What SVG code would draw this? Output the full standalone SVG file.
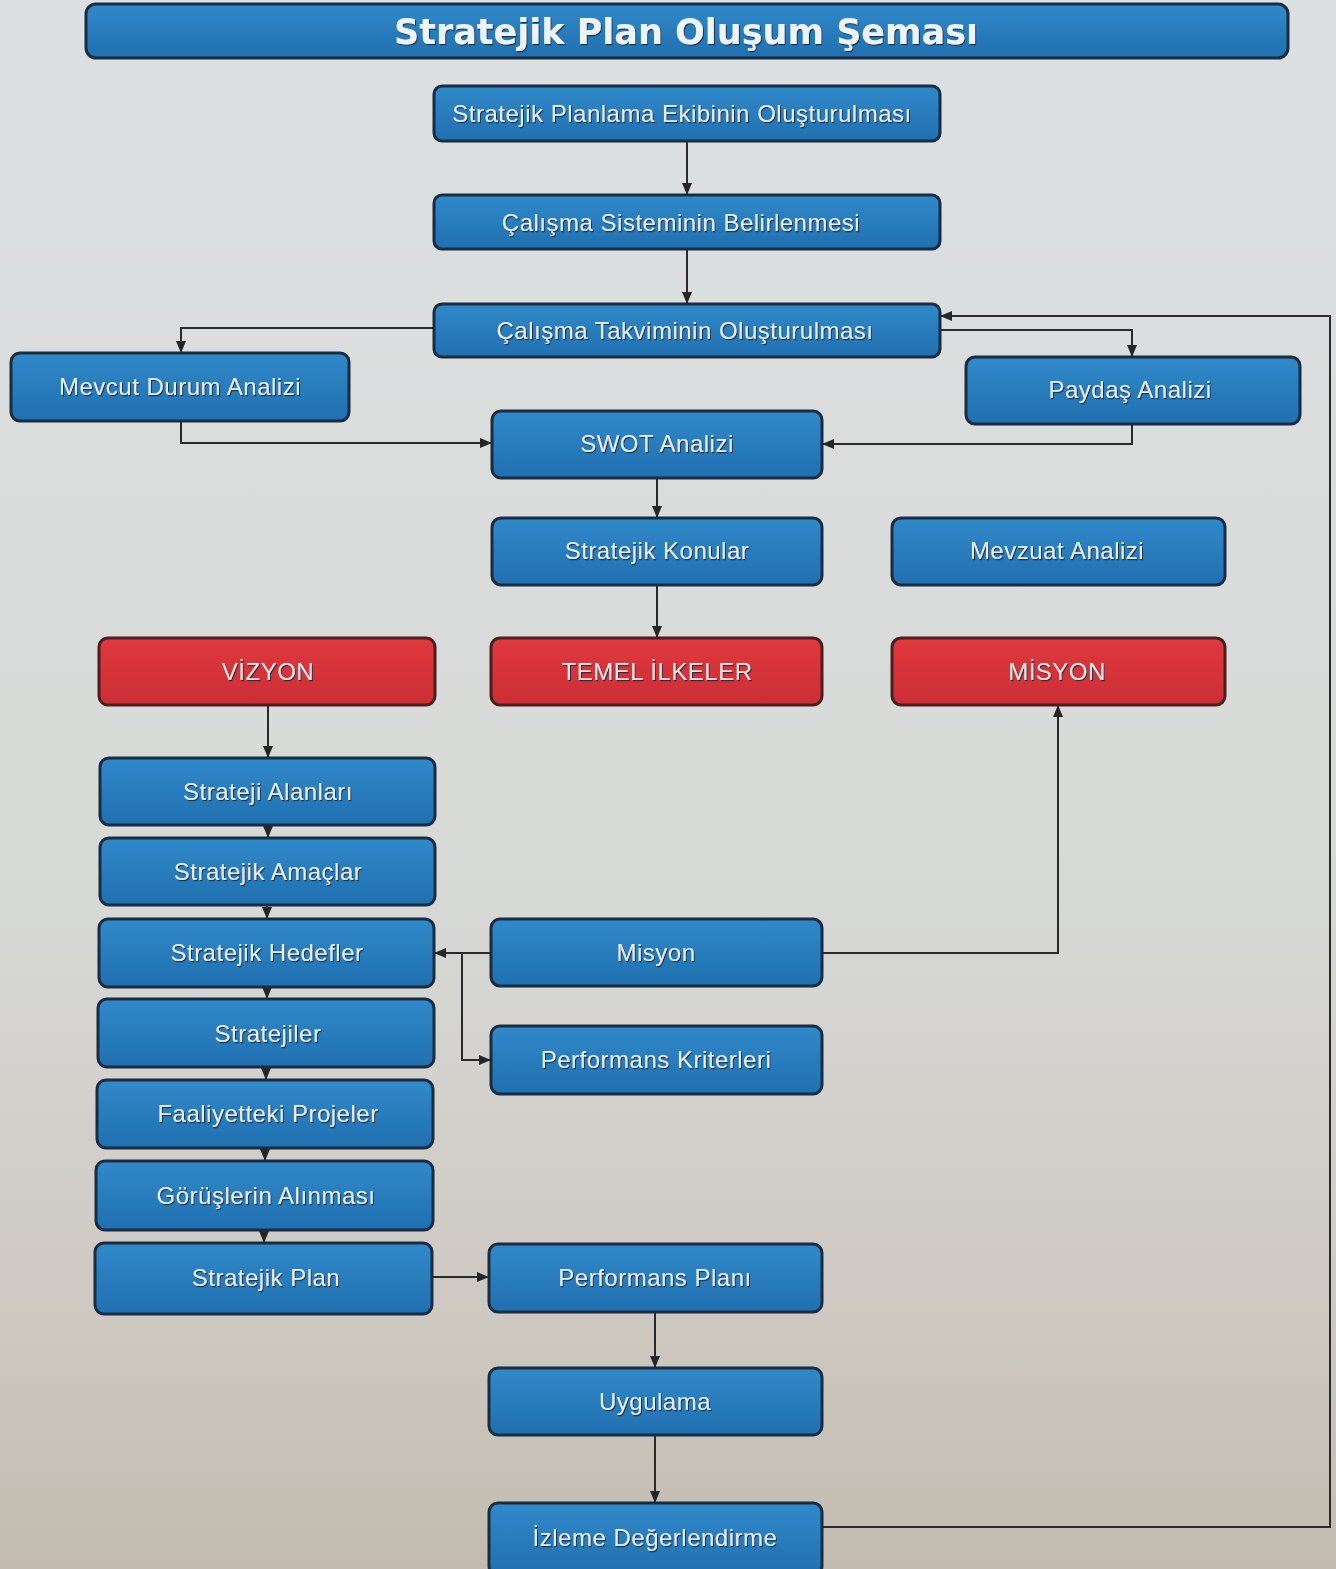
<svg xmlns="http://www.w3.org/2000/svg" width="1336" height="1569" viewBox="0 0 1336 1569">
  <defs>
    <linearGradient id="bg" x1="0" y1="0" x2="0" y2="1">
      <stop offset="0" stop-color="#dde0e1"/>
      <stop offset="0.55" stop-color="#d8dad8"/>
      <stop offset="0.85" stop-color="#cdc8c0"/>
      <stop offset="1" stop-color="#c3bbaf"/>
    </linearGradient>
    <linearGradient id="blue" x1="0" y1="0" x2="0" y2="1">
      <stop offset="0" stop-color="#3189c9"/>
      <stop offset="1" stop-color="#2070b0"/>
    </linearGradient>
    <linearGradient id="red" x1="0" y1="0" x2="0" y2="1">
      <stop offset="0" stop-color="#e0383e"/>
      <stop offset="1" stop-color="#cc2e35"/>
    </linearGradient>
    <filter id="ts" x="-10%" y="-30%" width="120%" height="160%">
      <feDropShadow dx="1" dy="1.2" stdDeviation="0.7" flood-color="#14283a" flood-opacity="0.9"/>
    </filter>
    <marker id="arr" viewBox="0 0 12 10" refX="12" refY="5" markerWidth="12" markerHeight="10" markerUnits="userSpaceOnUse" orient="auto">
      <path d="M0,0 L12,5 L0,10 Z" fill="#262626"/>
    </marker>
    <style>
      .b { fill: url(#blue); stroke: #182c42; stroke-width: 3; }
      .r { fill: url(#red); stroke: #4a1f1f; stroke-width: 3; }
      .t { font-family: "Liberation Sans", Arial, sans-serif; font-size: 24px; letter-spacing: 0.5px; fill: #e6edf2; text-anchor: middle; filter: url(#ts); }
      .rt { fill: #f0e4e4; }
      .title { font-family: "DejaVu Sans", Verdana, sans-serif; font-weight: bold; font-size: 35px; fill: #eef3f6; text-anchor: middle; filter: url(#ts); }
      .c { fill: none; stroke: #2a2a2a; stroke-width: 2; }
    </style>
  </defs>

  <rect x="0" y="0" width="1336" height="1569" fill="url(#bg)"/>

  <g id="connectors">
    <path class="c" d="M687,141 L687,195" marker-end="url(#arr)"/>
    <path class="c" d="M687,249 L687,304" marker-end="url(#arr)"/>
    <path class="c" d="M434,328 L181,328 L181,353" marker-end="url(#arr)"/>
    <path class="c" d="M940,330 L1132,330 L1132,357" marker-end="url(#arr)"/>
    <path class="c" d="M822,1527 L1330,1527 L1330,316 L940,316" marker-end="url(#arr)"/>
    <path class="c" d="M181,421 L181,443 L492,443" marker-end="url(#arr)"/>
    <path class="c" d="M1132,424 L1132,444 L822,444" marker-end="url(#arr)"/>
    <path class="c" d="M657,478 L657,518" marker-end="url(#arr)"/>
    <path class="c" d="M657,585 L657,638" marker-end="url(#arr)"/>
    <path class="c" d="M268,705 L268,758" marker-end="url(#arr)"/>
    <path class="c" d="M268,825 L268,838" marker-end="url(#arr)"/>
    <path class="c" d="M267,905 L267,919" marker-end="url(#arr)"/>
    <path class="c" d="M267,987 L267,999" marker-end="url(#arr)"/>
    <path class="c" d="M266,1067 L266,1080" marker-end="url(#arr)"/>
    <path class="c" d="M265,1148 L265,1161" marker-end="url(#arr)"/>
    <path class="c" d="M264,1230 L264,1243" marker-end="url(#arr)"/>
    <path class="c" d="M491,953 L434,953" marker-end="url(#arr)"/>
    <path class="c" d="M462,953 L462,1060 L491,1060" marker-end="url(#arr)"/>
    <path class="c" d="M822,953 L1058,953 L1058,705" marker-end="url(#arr)"/>
    <path class="c" d="M432,1277 L489,1277" marker-end="url(#arr)"/>
    <path class="c" d="M655,1312 L655,1368" marker-end="url(#arr)"/>
    <path class="c" d="M655,1435 L655,1503" marker-end="url(#arr)"/>
  </g>

  <g id="title">
    <rect class="b" x="86" y="4" width="1202" height="54" rx="10"/>
    <text class="title" x="686" y="44">Stratejik Plan Oluşum Şeması</text>
  </g>

  <g id="n-ekip">
    <rect class="b" x="434" y="86" width="506" height="55" rx="8"/>
    <text class="t" x="682" y="122">Stratejik Planlama Ekibinin Oluşturulması</text>
  </g>
  <g id="n-sistem">
    <rect class="b" x="434" y="195" width="506" height="54" rx="8"/>
    <text class="t" x="681" y="231">Çalışma Sisteminin Belirlenmesi</text>
  </g>
  <g id="n-takvim">
    <rect class="b" x="434" y="304" width="506" height="53" rx="8"/>
    <text class="t" x="685" y="339">Çalışma Takviminin Oluşturulması</text>
  </g>
  <g id="n-mevcut">
    <rect class="b" x="11" y="353" width="338" height="68" rx="9"/>
    <text class="t" x="180" y="395">Mevcut Durum Analizi</text>
  </g>
  <g id="n-paydas">
    <rect class="b" x="966" y="357" width="334" height="67" rx="9"/>
    <text class="t" x="1130" y="398">Paydaş Analizi</text>
  </g>
  <g id="n-swot">
    <rect class="b" x="492" y="411" width="330" height="67" rx="9"/>
    <text class="t" x="657" y="452">SWOT Analizi</text>
  </g>
  <g id="n-konular">
    <rect class="b" x="492" y="518" width="330" height="67" rx="9"/>
    <text class="t" x="657" y="559">Stratejik Konular</text>
  </g>
  <g id="n-mevzuat">
    <rect class="b" x="892" y="518" width="333" height="67" rx="9"/>
    <text class="t" x="1057" y="559">Mevzuat Analizi</text>
  </g>
  <g id="n-vizyon">
    <rect class="r" x="99" y="638" width="336" height="67" rx="9"/>
    <text class="t rt" x="268" y="680">VİZYON</text>
  </g>
  <g id="n-ilkeler">
    <rect class="r" x="491" y="638" width="331" height="67" rx="9"/>
    <text class="t rt" x="657" y="680">TEMEL İLKELER</text>
  </g>
  <g id="n-misyon-red">
    <rect class="r" x="892" y="638" width="333" height="67" rx="9"/>
    <text class="t rt" x="1057" y="680">MİSYON</text>
  </g>
  <g id="n-alanlar">
    <rect class="b" x="100" y="758" width="335" height="67" rx="9"/>
    <text class="t" x="268" y="800">Strateji Alanları</text>
  </g>
  <g id="n-amaclar">
    <rect class="b" x="100" y="838" width="335" height="67" rx="9"/>
    <text class="t" x="268" y="880">Stratejik Amaçlar</text>
  </g>
  <g id="n-hedefler">
    <rect class="b" x="99" y="919" width="335" height="68" rx="9"/>
    <text class="t" x="267" y="961">Stratejik Hedefler</text>
  </g>
  <g id="n-stratejiler">
    <rect class="b" x="98" y="999" width="336" height="68" rx="9"/>
    <text class="t" x="268" y="1042">Stratejiler</text>
  </g>
  <g id="n-projeler">
    <rect class="b" x="97" y="1080" width="336" height="68" rx="9"/>
    <text class="t" x="268" y="1122">Faaliyetteki Projeler</text>
  </g>
  <g id="n-gorusler">
    <rect class="b" x="96" y="1161" width="337" height="69" rx="9"/>
    <text class="t" x="266" y="1204">Görüşlerin Alınması</text>
  </g>
  <g id="n-splan">
    <rect class="b" x="95" y="1243" width="337" height="71" rx="9"/>
    <text class="t" x="266" y="1286">Stratejik Plan</text>
  </g>
  <g id="n-misyon">
    <rect class="b" x="491" y="919" width="331" height="67" rx="9"/>
    <text class="t" x="656" y="961">Misyon</text>
  </g>
  <g id="n-kriterler">
    <rect class="b" x="491" y="1026" width="331" height="68" rx="9"/>
    <text class="t" x="656" y="1068">Performans Kriterleri</text>
  </g>
  <g id="n-pplan">
    <rect class="b" x="489" y="1244" width="333" height="68" rx="9"/>
    <text class="t" x="655" y="1286">Performans Planı</text>
  </g>
  <g id="n-uygulama">
    <rect class="b" x="489" y="1368" width="333" height="67" rx="9"/>
    <text class="t" x="655" y="1410">Uygulama</text>
  </g>
  <g id="n-izleme">
    <rect class="b" x="489" y="1503" width="333" height="72" rx="9"/>
    <text class="t" x="655" y="1546">İzleme Değerlendirme</text>
  </g>
</svg>
